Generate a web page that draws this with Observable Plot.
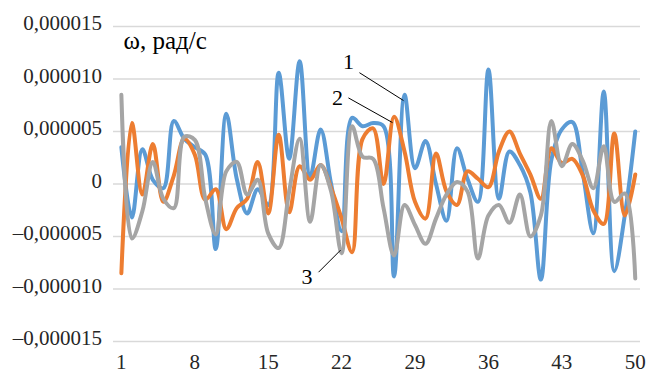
<!DOCTYPE html>
<html>
<head>
<meta charset="utf-8">
<script src="https://cdn.jsdelivr.net/npm/d3@7"></script>
<script src="https://cdn.jsdelivr.net/npm/@observablehq/plot@0.6"></script>
<style>
  html, body { margin: 0; padding: 0; background: #fff; }
  #chart { width: 654px; height: 374px; }
</style>
</head>
<body>
<div id="chart"></div>
<script>
// x categories (1..50)
const steps = d3.range(1, 51);

// series values, rad/s
const series1 = [3.5e-6, -3.2e-6, 3.3e-6, 0.4e-6, -0.4e-6, 6.0e-6, 4.3e-6, 3.5e-6, 2.8e-6, -6.2e-6,
  6.7e-6, 0.5e-6, -2.8e-6, -0.5e-6, -2.0e-6, 10.6e-6, 2.4e-6, 11.7e-6, 0.7e-6, 5.2e-6,
  0.0e-6, -4.5e-6, 6.3e-6, 5.5e-6, 5.8e-6, 5.5e-6, -8.8e-6, 8.5e-6, 1.5e-6, 4.1e-6,
  0.0e-6, -3.5e-6, 3.4e-6, 0.5e-6, -1.7e-6, 10.9e-6, -1.4e-6, 3.1e-6, 1.8e-6, -0.8e-6,
  -9.1e-6, 2.3e-6, 5.2e-6, 5.9e-6, 1.0e-6, -4.7e-6, 8.8e-6, -8.3e-6, -3.0e-6, 5.0e-6];

const series2 = [-8.5e-6, 5.8e-6, -1.0e-6, 3.8e-6, -1.7e-6, 0.8e-6, 4.3e-6, 2.8e-6, -1.5e-6, -0.5e-6,
  -4.3e-6, -2.3e-6, -1.4e-6, 2.1e-6, -2.8e-6, 4.7e-6, -2.7e-6, 1.7e-6, 0.4e-6, 1.8e-6,
  -0.4e-6, -3.3e-6, -6.5e-6, 4.3e-6, 5.3e-6, 0.0e-6, 6.4e-6, 3.1e-6, -1.7e-6, -3.3e-6,
  2.9e-6, -0.7e-6, -2.0e-6, 1.2e-6, 0.5e-6, -0.3e-6, 3.1e-6, 5.0e-6, 2.9e-6, 0.9e-6,
  -1.4e-6, 3.4e-6, 2.0e-6, 2.4e-6, 0.8e-6, -2.5e-6, -3.8e-6, 4.8e-6, -3.0e-6, 0.9e-6];

const series3 = [8.5e-6, -5.2e-6, -2.6e-6, 2.1e-6, -1.4e-6, -2.3e-6, 4.5e-6, 4.2e-6, -1.4e-6, -4.8e-6,
  1.2e-6, 2.1e-6, -1.0e-6, 0.4e-6, -4.7e-6, -6.1e-6, -0.7e-6, 4.3e-6, -3.6e-6, 1.8e-6,
  -0.7e-6, -6.6e-6, 5.5e-6, 2.6e-6, 2.4e-6, -2.3e-6, -6.8e-6, -2.0e-6, -3.9e-6, -5.7e-6,
  -3.3e-6, -1.0e-6, 0.2e-6, -0.7e-6, -7.1e-6, -3.0e-6, -2.0e-6, -3.7e-6, -1.0e-6, -5.0e-6,
  -3.0e-6, 6.0e-6, 1.7e-6, 3.8e-6, 2.2e-6, -0.4e-6, 3.6e-6, -1.7e-6, -0.9e-6, -9.0e-6];

const seriesNames = ["1", "2", "3"];
const seriesColors = ["#5b9bd5", "#ed7d31", "#a5a5a5"];

// tick values
const yTicks = [-0.000015, -0.00001, -0.000005, 0, 0.000005, 0.00001, 0.000015];
const xTicks = [1, 8, 15, 22, 29, 36, 43, 50];

const axisTitle = "ω, рад/с";

// annotation labels: label position and leader-line ends (data units)
const annotations = [
  {label: "1", tx: 22.65, ty: 11.6e-6, x1: 23.7, y1: 10.6e-6, x2: 27.9, y2: 7.95e-6},
  {label: "2", tx: 21.6, ty: 8.2e-6, x1: 22.65, y1: 8.2e-6, x2: 26.85, y2: 5.85e-6},
  {label: "3", tx: 18.7, ty: -8.9e-6, x1: 19.8, y1: -8.4e-6, x2: 21.9, y2: -6.3e-6}
];

const table = [];
[series1, series2, series3].forEach((vals, k) => {
  vals.forEach((v, i) => table.push({step: steps[i], value: v, series: seriesNames[k]}));
});

const fmt = d => d === 0 ? "0" : (d < 0 ? "–" : "") + Math.abs(d).toFixed(6).replace(".", ",");

const chart = Plot.plot({
  width: 654,
  height: 374,
  marginLeft: 113,
  marginRight: 14,
  marginTop: 26,
  marginBottom: 33,
  style: {fontFamily: "'Liberation Serif', 'Times New Roman', serif", fontSize: "21px", color: "#262626", background: "#fff"},
  x: {domain: [0.25, 50.5]},
  y: {domain: [-0.000015, 0.000015]},
  color: {domain: seriesNames, range: seriesColors},
  marks: [
    Plot.ruleY(yTicks, {stroke: "#d9d9d9", strokeWidth: 1.5}),
    Plot.axisY({ticks: yTicks, tickSize: 0, tickPadding: 11.5, tickFormat: fmt, label: null, fontSize: 21, dy: -3}),
    Plot.axisX({ticks: xTicks, tickSize: 0, tickPadding: 13, label: null, fontSize: 21}),
    Plot.line(table, {x: "step", y: "value", z: "series", stroke: "series", strokeWidth: 4, curve: "catmull-rom", strokeLinejoin: "round", strokeLinecap: "round"}),
    Plot.link(annotations, {x1: "x1", y1: "y1", x2: "x2", y2: "y2", stroke: "#000", strokeWidth: 1}),
    Plot.text(annotations, {x: "tx", y: "ty", text: "label", fontSize: 22, fill: "#000"}),
    Plot.text([axisTitle], {frameAnchor: "top-left", dx: 10, dy: 5, fontSize: 25, fill: "#000", textAnchor: "start", lineAnchor: "top"})
  ]
});
document.getElementById("chart").appendChild(chart);
</script>
</body>
</html>
